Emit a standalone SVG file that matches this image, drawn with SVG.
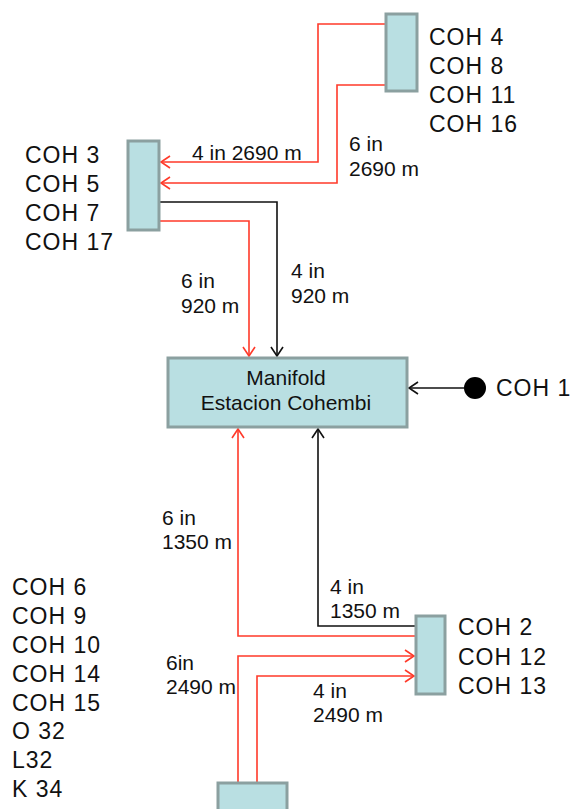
<svg xmlns="http://www.w3.org/2000/svg" width="571" height="809" viewBox="0 0 571 809">
<style>
.box{fill:#b9dfe2;stroke:#8ba0a0;stroke-width:3}
.coh{font-family:"Liberation Sans",Arial,sans-serif;font-size:23px;letter-spacing:1px;fill:#111}
.lbl{font-family:"Liberation Sans",Arial,sans-serif;font-size:21px;fill:#111}
.mtx{font-family:"Liberation Sans",Arial,sans-serif;font-size:21px;fill:#111;text-anchor:middle}
.r{fill:none;stroke:#ff3a2a;stroke-width:1.6}
.k{fill:none;stroke:#111;stroke-width:1.6}
</style>
<defs>
<marker id="ar" markerUnits="userSpaceOnUse" markerWidth="12" markerHeight="14" refX="10" refY="7" orient="auto">
<path d="M1,1 L10,7 L1,13" fill="none" stroke="#ff3a2a" stroke-width="1.6"/>
</marker>
<marker id="ak" markerUnits="userSpaceOnUse" markerWidth="12" markerHeight="14" refX="10" refY="7" orient="auto">
<path d="M1,1 L10,7 L1,13" fill="none" stroke="#111" stroke-width="1.6"/>
</marker>
</defs>
<rect width="571" height="809" fill="#fff"/>
<g id="connectors">
<path class="r" d="M386,24 H318 V162 H161" marker-end="url(#ar)"/>
<path class="r" d="M386,85 H337 V183 H161" marker-end="url(#ar)"/>
<path class="k" d="M159,202 H277 V356" marker-end="url(#ak)"/>
<path class="r" d="M159,221 H249 V356" marker-end="url(#ar)"/>
<path class="k" d="M464,388 H409" marker-end="url(#ak)"/>
<path class="r" d="M416,636 H238 V429" marker-end="url(#ar)"/>
<path class="k" d="M416,626 H318 V429" marker-end="url(#ak)"/>
<path class="r" d="M238,783 V656 H414" marker-end="url(#ar)"/>
<path class="r" d="M257,783 V676 H414" marker-end="url(#ar)"/>
</g>
<g id="labels">
<text class="lbl" x="192" y="160">4 in 2690 m</text>
<text class="lbl" x="349" y="151">6 in</text>
<text class="lbl" x="349" y="176">2690 m</text>
<text class="lbl" x="181" y="288">6 in</text>
<text class="lbl" x="181" y="313">920 m</text>
<text class="lbl" x="291" y="278">4 in</text>
<text class="lbl" x="291" y="303">920 m</text>
<text class="lbl" x="162" y="525">6 in</text>
<text class="lbl" x="162" y="549">1350 m</text>
<text class="lbl" x="330" y="594">4 in</text>
<text class="lbl" x="330" y="618">1350 m</text>
<text class="lbl" x="166" y="670">6in</text>
<text class="lbl" x="166" y="694">2490 m</text>
<text class="lbl" x="313" y="698">4 in</text>
<text class="lbl" x="313" y="722">2490 m</text>
</g>
<g id="node-top">
<rect class="box" x="386" y="14" width="31" height="77"/>
<text class="coh" x="429" y="45">COH 4</text>
<text class="coh" x="429" y="74">COH 8</text>
<text class="coh" x="429" y="103">COH 11</text>
<text class="coh" x="429" y="132">COH 16</text>
</g>
<g id="node-left">
<rect class="box" x="128" y="141" width="31" height="89"/>
<text class="coh" x="25" y="163">COH 3</text>
<text class="coh" x="25" y="192">COH 5</text>
<text class="coh" x="25" y="221">COH 7</text>
<text class="coh" x="25" y="250">COH 17</text>
</g>
<g id="node-manifold">
<rect class="box" x="168" y="358" width="239" height="69"/>
<text class="mtx" x="286" y="385">Manifold</text>
<text class="mtx" x="286" y="410">Estacion Cohembi</text>
</g>
<g id="node-coh1">
<circle cx="475" cy="388" r="11" fill="#000"/>
<text class="coh" x="496" y="396">COH 1</text>
</g>
<g id="node-right">
<rect class="box" x="416" y="616" width="29" height="78"/>
<text class="coh" x="458" y="635">COH 2</text>
<text class="coh" x="458" y="665">COH 12</text>
<text class="coh" x="458" y="694">COH 13</text>
</g>
<g id="node-bottom">
<rect class="box" x="218" y="783" width="69" height="40"/>
</g>
<g id="bottom-list">
<text class="coh" x="12" y="595">COH 6</text>
<text class="coh" x="12" y="624">COH 9</text>
<text class="coh" x="12" y="653">COH 10</text>
<text class="coh" x="12" y="682">COH 14</text>
<text class="coh" x="12" y="711">COH 15</text>
<text class="coh" x="12" y="739">O 32</text>
<text class="coh" x="12" y="768">L32</text>
<text class="coh" x="12" y="797">K 34</text>
</g>
</svg>
